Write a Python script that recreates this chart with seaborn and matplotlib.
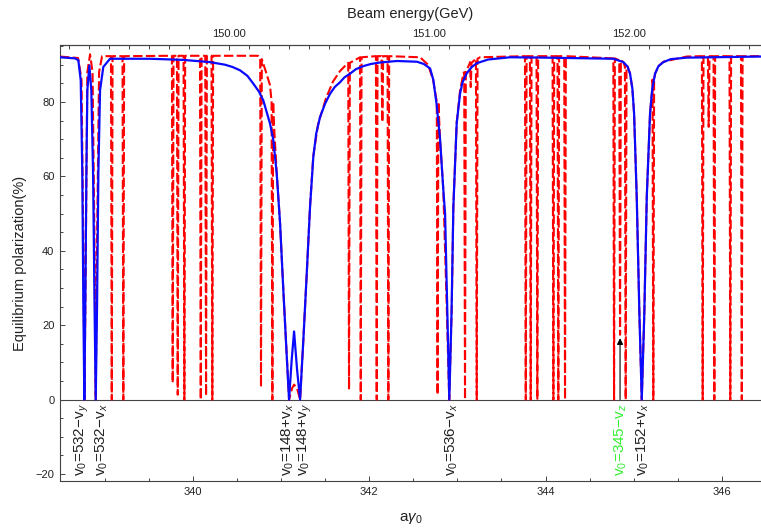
import numpy as np
import matplotlib
matplotlib.use("Agg")
import matplotlib.pyplot as plt
import seaborn as sns
from matplotlib.ticker import MultipleLocator, FixedLocator, FormatStrFormatter

# blue: solid curve (a*gamma0, polarization %)
blue_x = [338.495, 338.666, 338.703, 338.730, 338.748, 338.760, 338.771, 338.782, 338.794, 338.805,
          338.828, 338.850, 338.870, 338.887, 338.900, 338.915, 338.930, 338.949, 338.986, 339.062,
          339.516, 339.890, 340.196, 340.366, 340.450, 340.536, 340.620, 340.687, 340.750, 340.800,
          340.876, 340.914, 340.952, 340.990, 341.027, 341.066, 341.092, 341.122, 341.149, 341.183,
          341.217, 341.254, 341.293, 341.330, 341.367, 341.400, 341.443, 341.500, 341.557, 341.610,
          341.670, 341.720, 341.784, 341.850, 341.931, 342.020, 342.124, 342.316, 342.543, 342.620,
          342.691, 342.728, 342.767, 342.804, 342.841, 342.861, 342.887, 342.909, 342.934, 342.955,
          342.993, 343.031, 343.060, 343.107, 343.160, 343.220, 343.350, 343.598, 344.014, 344.769,
          344.882, 344.930, 344.958, 344.985, 345.004, 345.034, 345.064, 345.091, 345.120, 345.148,
          345.185, 345.210, 345.242, 345.280, 345.336, 345.420, 345.601, 346.443]
blue_y = [92.0, 91.7, 91.2, 85.8, 60.8, 25.0, 0.0, 25.0, 60.8, 83.1,
          89.8, 83.1, 60.8, 25.0, 0.0, 25.0, 60.8, 83.1, 89.4, 91.6,
          91.6, 91.3, 90.7, 90.0, 89.4, 88.5, 87.0, 84.9, 82.8, 80.4,
          74.2, 69.7, 60.8, 47.4, 29.5, 11.6, 0.0, 10.7, 18.3, 8.0,
          0.0, 16.0, 34.0, 51.8, 65.2, 71.5, 75.9, 79.5, 82.2, 84.0,
          85.3, 86.6, 87.6, 88.8, 89.6, 90.2, 90.6, 91.0, 90.8, 90.2,
          89.0, 85.9, 79.0, 70.0, 56.4, 50.0, 23.0, 0.0, 23.0, 51.9,
          74.3, 82.3, 85.3, 87.7, 89.3, 90.4, 91.4, 92.0, 91.9, 91.6,
          90.7, 89.5, 87.6, 83.5, 76.9, 54.5, 23.2, 0.0, 23.2, 54.5,
          76.9, 83.5, 87.6, 89.6, 90.7, 91.5, 91.9, 92.2]

# red dashed curve: smooth envelope ...
red_env_x = [338.495, 338.700, 338.739, 338.760, 338.773, 338.787, 338.805, 338.836, 338.864, 338.887,
             338.900, 338.914, 338.938, 338.972, 340.740, 340.797, 340.831, 340.876, 340.916, 340.952,
             340.990, 341.027, 341.066, 341.092, 341.126, 341.149, 341.183, 341.217, 341.254, 341.293,
             341.330, 341.367, 341.421, 341.511, 341.591, 341.670, 341.761, 341.897, 342.124, 342.577,
             342.668, 342.725, 342.804, 342.841, 342.880, 342.908, 342.937, 342.955, 342.993, 343.031,
             343.068, 343.144, 343.257, 344.014, 344.769, 344.882, 344.930, 344.958, 344.985, 345.004,
             345.034, 345.064, 345.091, 345.120, 345.148, 345.185, 345.210, 345.242, 345.280, 345.336,
             345.601, 346.443]
red_env_y = [92.2, 91.8, 86.0, 40.0, 0.0, 40.0, 88.0, 92.8, 88.0, 40.0,
             0.0, 40.0, 88.0, 92.3, 92.4, 90.5, 88.0, 84.5, 76.0, 61.0,
             47.4, 29.5, 11.6, 0.0, 3.0, 4.0, 3.0, 0.0, 16.0, 34.0,
             52.0, 65.5, 74.0, 81.0, 85.5, 88.3, 90.5, 92.0, 92.3, 92.0,
             90.0, 86.0, 70.0, 56.4, 25.0, 0.0, 25.0, 52.0, 74.5, 83.0,
             87.6, 90.7, 92.0, 92.3, 91.7, 90.7, 89.5, 87.6, 83.5, 76.9,
             54.5, 23.2, 0.0, 23.2, 54.5, 76.9, 83.5, 87.6, 89.6, 90.8,
             92.2, 92.3]

# ... plus the narrow spikes (position, level at the spike's shoulders, lowest value)
spike_x = [339.082, 339.213, 339.773, 339.830, 339.905, 340.091, 340.151, 340.222, 340.774, 340.903,
           341.772, 341.905, 342.086, 342.150, 342.218, 342.776, 343.087, 343.152, 343.220, 343.776,
           343.832, 343.907, 344.089, 344.145, 344.221, 344.777, 344.845, 344.909, 345.222, 345.782,
           345.850, 345.914, 346.095, 346.225]
spike_top = [92.3, 92.3, 92.4, 92.4, 92.4, 92.4, 92.4, 92.4, 91.5, 80.0,
             90.5, 92.0, 92.3, 92.3, 92.3, 80.0, 88.0, 90.5, 91.6, 92.3,
             92.3, 92.3, 92.3, 92.3, 92.3, 91.7, 91.2, 89.5, 86.0, 92.3,
             92.3, 92.3, 92.3, 92.3]
spike_bottom = [0.0, 0.0, 4.5, 1.3, 0.0, 0.0, 1.0, 0.0, 3.4, 0.0,
                2.7, 0.0, 0.0, 74.6, 0.0, 1.3, 0.0, 84.0, 0.0, 0.0,
                0.0, 0.0, 0.0, 0.0, 0.0, 0.0, 17.4, 0.0, 0.0, 0.0,
                73.3, 0.0, 0.0, 0.0]

# resonance labels under the zero line
res_labels = ["v$_0$=532\u2212v$_y$", "v$_0$=532\u2212v$_x$", "v$_0$=148+v$_x$", "v$_0$=148+v$_y$",
              "v$_0$=536\u2212v$_x$", "v$_0$=345\u2212v$_z$", "v$_0$=152+v$_x$"]
res_label_x = [338.745, 338.972, 341.073, 341.273, 342.937, 344.853, 345.098]
res_label_color = ["#222222", "#222222", "#222222", "#222222", "#222222", "#33ee33", "#222222"]

arrow_x = 344.845
arrow_top = 16.5

GEV_PER_UNIT = 0.440649
energy_ticks = [150, 151, 152]

# build the red line: envelope + spike shoulders
w = 0.009
rx = list(red_env_x)
ry = list(red_env_y)
for x, t, b in zip(spike_x, spike_top, spike_bottom):
    rx += [x - w, x, x + w]
    ry += [t, b, t]
order = np.argsort(rx)
red_x = np.array(rx)[order]
red_y = np.array(ry)[order]

sns.set_style("ticks")
plt.rcParams["font.family"] = ["Liberation Sans", "DejaVu Sans"]
plt.rcParams["mathtext.fontset"] = "custom"
plt.rcParams["mathtext.rm"] = "Liberation Sans"
plt.rcParams["mathtext.it"] = "Liberation Sans:italic"

fig = plt.figure(figsize=(7.61, 5.29), dpi=100)
ax = fig.add_axes([60 / 761, 1 - 481 / 529, 701 / 761, (481 - 45) / 529])

frame = "#444444"
ax.axhline(0, color=frame, lw=0.8, zorder=1)

sns.lineplot(x=red_x, y=red_y, sort=False, estimator=None, color="#ff0000", lw=1.5,
             linestyle=(0, (4.5, 1.6)), ax=ax, zorder=2)
sns.lineplot(x=blue_x, y=blue_y, sort=False, estimator=None, color="#0a0aff", lw=1.6,
             ax=ax, zorder=3)

ax.annotate("", xy=(arrow_x, arrow_top), xytext=(arrow_x, 0),
            arrowprops=dict(arrowstyle="-|>", color="black", lw=0.8, mutation_scale=9,
                            shrinkA=0, shrinkB=0), zorder=4)

for lbl, x, c in zip(res_labels, res_label_x, res_label_color):
    ax.text(x, -20.6, lbl, rotation=90, ha="center", va="bottom", fontsize=11, color=c)

ax.set_xlim(338.495, 346.443)
ax.set_ylim(-21.9, 95.3)
ax.xaxis.set_major_locator(FixedLocator([340, 342, 344, 346]))
ax.xaxis.set_minor_locator(MultipleLocator(0.5))
ax.yaxis.set_major_locator(MultipleLocator(20))
ax.yaxis.set_minor_locator(MultipleLocator(5))
ax.tick_params(which="both", direction="in", top=False, right=False, color=frame,
               labelcolor="#222222", labelsize=8, width=0.7)
ax.tick_params(which="major", length=3.8, pad=4)
ax.tick_params(which="minor", length=2.2)
for s in ["left", "bottom", "top"]:
    ax.spines[s].set_color(frame)
    ax.spines[s].set_linewidth(0.8)
ax.spines["right"].set_visible(False)

ax.set_xlabel("a$\\gamma_0$", fontsize=11, color="#222222")
ax.xaxis.set_label_coords(0.5, -0.068)
ax.set_ylabel("Equilibrium polarization(%)", fontsize=10.5, color="#222222")
ax.yaxis.set_label_coords(-0.047, 0.5)

secax = ax.secondary_xaxis("top", functions=(lambda a: a * GEV_PER_UNIT, lambda e: e / GEV_PER_UNIT))
secax.xaxis.set_major_locator(FixedLocator(energy_ticks))
secax.xaxis.set_minor_locator(MultipleLocator(0.1))
secax.xaxis.set_major_formatter(FormatStrFormatter("%.2f"))
secax.tick_params(which="both", direction="in", color=frame, labelcolor="#222222",
                  labelsize=8, width=0.7)
secax.tick_params(which="major", length=3.8, pad=4)
secax.tick_params(which="minor", length=3.0)
secax.spines["top"].set_color(frame)
secax.spines["top"].set_linewidth(0.8)
secax.set_xlabel("Beam energy(GeV)", fontsize=10.5, color="#222222", labelpad=8)

fig.savefig("out.png", dpi=100)
